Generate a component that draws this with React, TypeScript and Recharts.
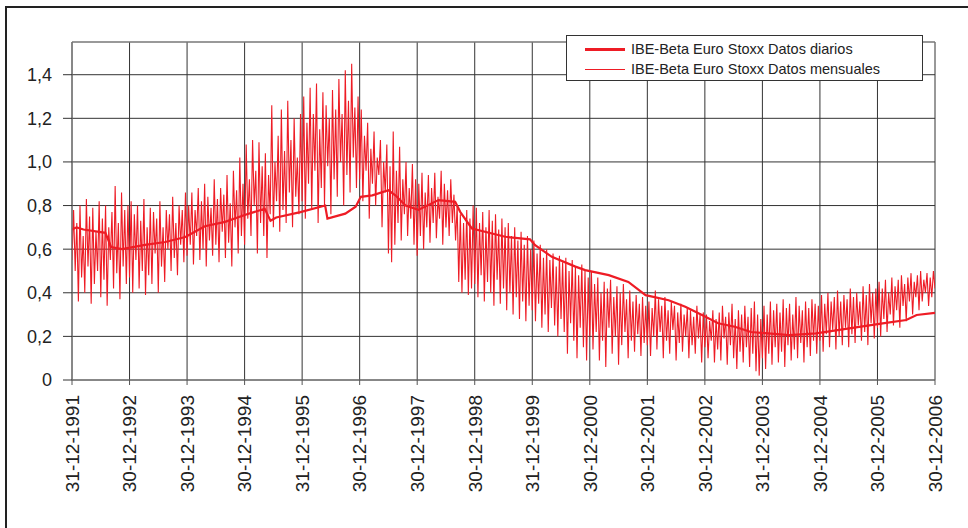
import React from 'react';
import {
  CartesianGrid, Line, LineChart, ReferenceLine, XAxis, YAxis
} from 'recharts';

// tick labels along the x axis (one per year end)
const yearTicks = [1992, 1993, 1994, 1995, 1996, 1997, 1998, 1999, 2000, 2001, 2002, 2003, 2004, 2005, 2006, 2007];
const yearLabels = [
  '31-12-1991', '30-12-1992', '30-12-1993', '30-12-1994', '31-12-1995', '30-12-1996',
  '30-12-1997', '30-12-1998', '31-12-1999', '30-12-2000', '30-12-2001', '30-12-2002',
  '31-12-2003', '30-12-2004', '30-12-2005', '30-12-2006'
];
const valueTicks = [0, 0.2, 0.4, 0.6, 0.8, 1.0, 1.2, 1.4];

// "Datos diarios" - the smooth thick line (date as fractional year, value)
const diariosDates = [
  1992.0, 1992.08, 1992.2, 1992.58, 1992.68, 1992.87, 1993.27, 1993.62, 1993.97, 1994.31,
  1994.66, 1995.04, 1995.35, 1995.45, 1995.55, 1995.97, 1996.4, 1996.44, 1996.75, 1996.93,
  1997.02, 1997.22, 1997.5, 1997.62, 1997.8, 1998.02, 1998.37, 1998.66, 1998.75, 1998.95,
  1999.53, 1999.96, 2000.05, 2000.34, 2000.75, 2000.92, 2001.33, 2001.67, 2001.97, 2002.37,
  2002.66, 2002.95, 2003.23, 2003.52, 2003.8, 2004.47, 2004.93, 2005.51, 2006.09, 2006.5,
  2006.68, 2007.0
];
const diariosValues = [
  0.69, 0.70, 0.69, 0.675, 0.61, 0.60, 0.62, 0.633, 0.656, 0.705,
  0.725, 0.76, 0.785, 0.73, 0.745, 0.77, 0.80, 0.74, 0.763, 0.795,
  0.84, 0.847, 0.87, 0.847, 0.80, 0.78, 0.825, 0.817, 0.77, 0.695,
  0.657, 0.645, 0.618, 0.565, 0.52, 0.504, 0.481, 0.45, 0.389, 0.366,
  0.336, 0.298, 0.26, 0.244, 0.22, 0.206, 0.214, 0.237, 0.26, 0.275,
  0.298, 0.308
];

// "Datos mensuales" - the jagged thin line, 36 readings per year
const mensuales1992 = [0.55, 0.78, 0.50, 0.72, 0.36, 0.80, 0.47, 0.66, 0.40, 0.83, 0.52, 0.75, 0.35, 0.79, 0.44, 0.68, 0.50, 0.82, 0.38, 0.74, 0.46, 0.80, 0.34, 0.70, 0.55, 0.77, 0.42, 0.89, 0.49, 0.72, 0.37, 0.86, 0.52, 0.78, 0.44, 0.80];
const mensuales1993 = [0.47, 0.82, 0.40, 0.76, 0.55, 0.80, 0.42, 0.73, 0.50, 0.83, 0.39, 0.70, 0.48, 0.79, 0.44, 0.77, 0.58, 0.74, 0.40, 0.82, 0.52, 0.70, 0.45, 0.78, 0.60, 0.76, 0.50, 0.84, 0.56, 0.72, 0.48, 0.80, 0.62, 0.78, 0.54, 0.86];
const mensuales1994 = [0.57, 0.80, 0.62, 0.86, 0.53, 0.78, 0.66, 0.88, 0.55, 0.82, 0.60, 0.90, 0.52, 0.84, 0.64, 0.79, 0.57, 0.92, 0.62, 0.83, 0.54, 0.88, 0.68, 0.85, 0.56, 0.94, 0.63, 0.81, 0.52, 0.96, 0.70, 0.87, 0.58, 1.02, 0.66, 0.90];
const mensuales1995 = [0.62, 1.08, 0.74, 0.92, 0.66, 1.10, 0.80, 0.96, 0.58, 1.09, 0.72, 0.98, 0.66, 1.04, 0.56, 0.94, 0.76, 1.26, 0.70, 1.00, 0.82, 1.12, 0.68, 1.24, 0.78, 1.05, 0.72, 1.28, 0.86, 1.10, 0.70, 1.20, 0.84, 1.02, 0.76, 1.22];
const mensuales1996 = [0.82, 1.30, 0.74, 1.18, 0.90, 1.34, 0.78, 1.22, 0.96, 1.36, 0.72, 1.15, 0.88, 1.32, 0.80, 1.26, 0.98, 1.20, 0.76, 1.33, 0.92, 1.24, 0.84, 1.38, 1.00, 1.22, 0.80, 1.42, 0.94, 1.28, 0.86, 1.45, 1.02, 1.25, 0.88, 1.30];
const mensuales1997 = [0.92, 1.24, 0.82, 1.12, 0.96, 1.18, 0.74, 1.06, 0.90, 1.14, 0.80, 1.02, 0.94, 1.10, 0.70, 1.00, 0.86, 1.08, 0.58, 0.98, 0.54, 1.14, 0.62, 0.96, 0.72, 1.07, 0.64, 0.92, 0.76, 1.00, 0.66, 0.88, 0.74, 0.99, 0.62, 0.92];
const mensuales1998 = [0.57, 0.90, 0.66, 0.95, 0.60, 0.86, 0.70, 0.94, 0.63, 0.88, 0.72, 0.95, 0.65, 0.84, 0.74, 0.96, 0.62, 0.90, 0.70, 0.87, 0.66, 0.92, 0.72, 0.85, 0.64, 0.80, 0.45, 0.76, 0.40, 0.72, 0.46, 0.78, 0.39, 0.74, 0.42, 0.80];
const mensuales1999 = [0.44, 0.79, 0.38, 0.72, 0.48, 0.77, 0.36, 0.70, 0.45, 0.78, 0.40, 0.73, 0.34, 0.76, 0.46, 0.69, 0.35, 0.74, 0.42, 0.70, 0.32, 0.72, 0.40, 0.66, 0.30, 0.70, 0.38, 0.64, 0.28, 0.68, 0.36, 0.62, 0.27, 0.66, 0.34, 0.60];
const mensuales2000 = [0.32, 0.64, 0.27, 0.58, 0.35, 0.62, 0.24, 0.56, 0.30, 0.60, 0.22, 0.55, 0.33, 0.58, 0.25, 0.52, 0.20, 0.57, 0.28, 0.54, 0.22, 0.56, 0.12, 0.50, 0.26, 0.55, 0.18, 0.52, 0.10, 0.48, 0.24, 0.53, 0.15, 0.50, 0.09, 0.47];
const mensuales2001 = [0.20, 0.50, 0.14, 0.44, 0.22, 0.47, 0.09, 0.40, 0.18, 0.45, 0.06, 0.42, 0.24, 0.46, 0.12, 0.38, 0.20, 0.43, 0.07, 0.40, 0.16, 0.44, 0.22, 0.37, 0.10, 0.41, 0.18, 0.36, 0.13, 0.39, 0.21, 0.35, 0.11, 0.38, 0.17, 0.34];
const mensuales2002 = [0.16, 0.36, 0.11, 0.33, 0.20, 0.41, 0.14, 0.37, 0.22, 0.34, 0.10, 0.38, 0.18, 0.32, 0.12, 0.36, 0.23, 0.34, 0.09, 0.31, 0.17, 0.35, 0.13, 0.30, 0.20, 0.33, 0.10, 0.32, 0.16, 0.29, 0.12, 0.34, 0.19, 0.30, 0.08, 0.31];
const mensuales2003 = [0.15, 0.30, 0.10, 0.27, 0.18, 0.32, 0.08, 0.28, 0.14, 0.31, 0.09, 0.34, 0.19, 0.29, 0.07, 0.31, 0.16, 0.35, 0.10, 0.28, 0.05, 0.32, 0.13, 0.30, 0.08, 0.34, 0.15, 0.29, 0.06, 0.33, 0.12, 0.36, 0.04, 0.30, 0.02, 0.28];
const mensuales2004 = [0.10, 0.34, 0.05, 0.30, 0.12, 0.36, 0.07, 0.32, 0.15, 0.35, 0.08, 0.31, 0.13, 0.37, 0.06, 0.33, 0.16, 0.35, 0.09, 0.30, 0.14, 0.38, 0.10, 0.34, 0.17, 0.32, 0.08, 0.36, 0.15, 0.33, 0.11, 0.37, 0.18, 0.35, 0.12, 0.34];
const mensuales2005 = [0.18, 0.39, 0.13, 0.35, 0.21, 0.40, 0.15, 0.36, 0.23, 0.38, 0.14, 0.41, 0.20, 0.36, 0.16, 0.39, 0.24, 0.37, 0.15, 0.42, 0.21, 0.38, 0.17, 0.40, 0.25, 0.36, 0.18, 0.43, 0.22, 0.39, 0.16, 0.44, 0.26, 0.40, 0.19, 0.42];
const mensuales2006 = [0.24, 0.45, 0.20, 0.42, 0.28, 0.46, 0.22, 0.40, 0.30, 0.47, 0.25, 0.43, 0.32, 0.46, 0.24, 0.48, 0.34, 0.44, 0.27, 0.47, 0.36, 0.49, 0.30, 0.45, 0.38, 0.48, 0.32, 0.50, 0.36, 0.46, 0.40, 0.49, 0.34, 0.47, 0.38, 0.50];
const mensualesLast = 0.42;

const mensualesYears = [
  mensuales1992, mensuales1993, mensuales1994, mensuales1995, mensuales1996,
  mensuales1997, mensuales1998, mensuales1999, mensuales2000, mensuales2001,
  mensuales2002, mensuales2003, mensuales2004, mensuales2005, mensuales2006
];

const diarios = diariosDates.map((t, i) => ({ t, v: diariosValues[i] }));
const mensuales = mensualesYears.flatMap((vals, y) =>
  vals.map((v, i) => ({ t: 1992 + y + i / vals.length, v }))
).concat([{ t: 2007, v: mensualesLast }]);

const RED = '#ee1c25';
const FONT = 'Arial, "Liberation Sans", sans-serif';

const XTick = (props: any) => {
  const { x, y, index } = props;
  const ty = y + 8;
  return (
    <text x={x} y={ty} transform={`rotate(-90, ${x}, ${ty})`} textAnchor="end"
      dy="0.36em" fontSize={19} fill="#222" fontFamily={FONT}>
      {yearLabels[index]}
    </text>
  );
};

const ChartLegend = () => (
  <div style={{
    position: 'absolute', left: 566, top: 35, width: 355, height: 44,
    border: '1px solid #333', background: '#fff',
    fontFamily: FONT, fontSize: 14.5, color: '#222', zIndex: 2
  }}>
    <div style={{ display: 'flex', alignItems: 'center', height: 20, marginTop: 3 }}>
      <div style={{ width: 40, height: 3, background: RED, marginLeft: 18, marginRight: 6 }} />
      <span>IBE-Beta Euro Stoxx Datos diarios</span>
    </div>
    <div style={{ display: 'flex', alignItems: 'center', height: 20 }}>
      <div style={{ width: 40, height: 1, background: RED, marginLeft: 18, marginRight: 6 }} />
      <span>IBE-Beta Euro Stoxx Datos mensuales</span>
    </div>
  </div>
);

const App = () => {
  return (
    <div style={{ position: 'absolute', left: 0, top: 0, width: 968, height: 528, overflow: 'hidden', background: '#fff' }}>
      <div style={{ position: 'absolute', left: 0, top: 0 }}>
        <LineChart width={968} height={528} margin={{ top: 42, right: 33, left: 0, bottom: 0 }}>
          <CartesianGrid stroke="#333" strokeWidth={1} />
          <XAxis
            type="number"
            dataKey="t"
            domain={[1992, 2007]}
            ticks={yearTicks}
            interval={0}
            height={148}
            tick={<XTick />}
            tickLine={{ stroke: '#555' }}
            tickSize={5}
            axisLine={{ stroke: '#777' }}
            allowDataOverflow
          />
          <YAxis
            type="number"
            domain={[0, 1.55]}
            ticks={valueTicks}
            width={72}
            tickSize={9}
            tickMargin={11}
            tickLine={{ stroke: '#333' }}
            axisLine={{ stroke: '#777' }}
            tickFormatter={(v: number) => (v === 0 ? '0' : v.toFixed(1).replace('.', ','))}
            tick={{ fontSize: 18, fill: '#222', fontFamily: FONT }}
            allowDataOverflow
          />
          <ReferenceLine y={1.55} stroke="#999" />
          <Line
            data={mensuales}
            dataKey="v"
            type="linear"
            stroke={RED}
            strokeWidth={1.1}
            dot={false}
            isAnimationActive={false}
          />
          <Line
            data={diarios}
            dataKey="v"
            type="linear"
            stroke={RED}
            strokeWidth={2.2}
            dot={false}
            isAnimationActive={false}
          />
        </LineChart>
      </div>
      <ChartLegend />
      <div style={{
        position: 'absolute', left: 5, top: 6, width: 1000, height: 600,
        borderLeft: '2px solid #222', borderTop: '2px solid #222', zIndex: 3, pointerEvents: 'none'
      }} />
    </div>
  );
};

export default App;
